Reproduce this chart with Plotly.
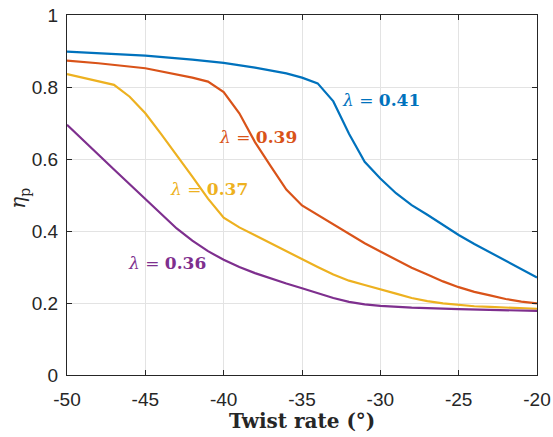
import plotly.graph_objects as go

# Twist rate (deg)
x_041 = [-50, -48, -45, -42, -40, -38, -37, -36, -35, -34, -33, -32, -31, -30, -29, -28, -27, -26, -25, -24, -23, -22, -21, -20]
y_041 = [0.898, 0.894, 0.887, 0.876, 0.867, 0.854, 0.847, 0.838, 0.826, 0.810, 0.760, 0.670, 0.592, 0.546, 0.505, 0.472, 0.445, 0.417, 0.389, 0.364, 0.341, 0.318, 0.294, 0.271]

x_039 = [-50, -48, -45, -43, -42, -41, -40, -39, -38, -37, -36, -35, -34, -33, -32, -31, -30, -29, -28, -27, -26, -25, -24, -23, -22, -21, -20]
y_039 = [0.873, 0.866, 0.852, 0.835, 0.826, 0.815, 0.786, 0.727, 0.647, 0.580, 0.515, 0.471, 0.445, 0.417, 0.392, 0.366, 0.343, 0.320, 0.298, 0.279, 0.260, 0.244, 0.231, 0.221, 0.211, 0.204, 0.199]

x_037 = [-50, -47, -46, -45, -44, -43, -42, -41, -40, -39, -38, -37, -36, -35, -34, -33, -32, -31, -30, -29, -28, -27, -26, -25, -24, -23, -22, -21, -20]
y_037 = [0.836, 0.806, 0.773, 0.727, 0.670, 0.612, 0.551, 0.490, 0.437, 0.410, 0.388, 0.364, 0.342, 0.321, 0.300, 0.279, 0.262, 0.250, 0.239, 0.226, 0.214, 0.205, 0.199, 0.194, 0.191, 0.189, 0.187, 0.185, 0.184]

x_036 = [-50, -49, -48, -47, -46, -45, -44, -43, -42, -41, -40, -39, -38, -37, -36, -35, -34, -33, -32, -31, -30, -28, -25, -20]
y_036 = [0.695, 0.653, 0.612, 0.571, 0.530, 0.489, 0.447, 0.407, 0.373, 0.344, 0.320, 0.300, 0.283, 0.268, 0.254, 0.241, 0.227, 0.214, 0.203, 0.196, 0.192, 0.187, 0.183, 0.178]

series = [
    ("0.41", x_041, y_041, "#0072BD"),
    ("0.39", x_039, y_039, "#D95319"),
    ("0.37", x_037, y_037, "#EDB120"),
    ("0.36", x_036, y_036, "#7E2F8E"),
]

# label positions (data coords)
label_x = [-29.96, -37.78, -40.94, -43.6]
label_y = [0.764, 0.662, 0.516, 0.312]

x_ticks = [-50, -45, -40, -35, -30, -25, -20]
x_ticktext = ["-50", "-45", "-40", "-35", "-30", "-25", "-20"]
y_ticks = [0, 0.2, 0.4, 0.6, 0.8, 1]
y_ticktext = ["0", "0.2", "0.4", "0.6", "0.8", "1"]

fig = go.Figure()
for name, xs, ys, c in series:
    fig.add_trace(go.Scatter(x=xs, y=ys, mode="lines", name=name,
                             line=dict(color=c, width=2.2), showlegend=False))

for (name, xs, ys, c), lx, ly in zip(series, label_x, label_y):
    fig.add_annotation(x=lx, y=ly, xref="x", yref="y", showarrow=False,
                       text="<i>λ</i> = <b>" + name + "</b>",
                       font=dict(family="DejaVu Serif", size=17, color=c))

# axis titles
fig.add_annotation(x=0.5, y=-0.128, xref="paper", yref="paper", showarrow=False,
                   xanchor="center", yanchor="middle",
                   text="<b>Twist rate (°)</b>",
                   font=dict(family="DejaVu Serif", size=20, color="#262626"))
fig.add_annotation(x=-0.102, y=0.49, xref="paper", yref="paper", showarrow=False,
                   xanchor="center", yanchor="middle", textangle=-90,
                   text="<i>η</i><sub>p</sub>",
                   font=dict(family="DejaVu Serif", size=20, color="#262626"))

axis_common = dict(
    showline=True, linecolor="#262626", linewidth=1, mirror="ticks",
    ticks="inside", ticklen=5, tickcolor="#262626",
    showgrid=True, gridcolor="#e3e3e3", gridwidth=1, zeroline=False,
    automargin=False,
    tickfont=dict(family="Liberation Sans, Arial", size=19, color="#262626"),
)

fig.update_xaxes(range=[-50, -20], tickvals=x_ticks, ticktext=x_ticktext,
                 ticklabelstandoff=7, **axis_common)
fig.update_yaxes(range=[0, 1], tickvals=y_ticks, ticktext=y_ticktext,
                 ticklabelstandoff=4, **axis_common)

fig.update_layout(
    width=553, height=437,
    margin=dict(l=67, r=16, t=15, b=62),
    plot_bgcolor="white", paper_bgcolor="white",
)

fig.write_html("out.html", config={"displayModeBar": False},
               post_script="document.body.style.margin='0';")
